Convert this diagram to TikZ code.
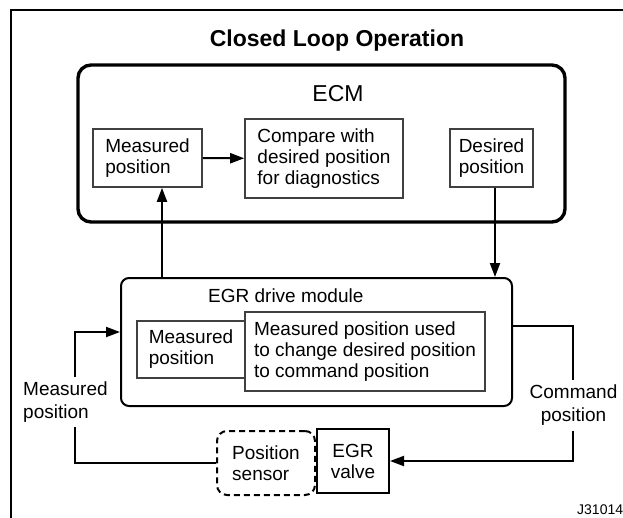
\documentclass[tikz,border=0pt]{standalone}
\usepackage{fontspec}
\setmainfont{Liberation Sans}
\usetikzlibrary{arrows.meta,calc}
\newcommand\bodyfont{\fontsize{19}{21}\selectfont}
\newcommand\labfont{\fontsize{19}{23}\selectfont}
\begin{document}
\begin{tikzpicture}[x=1pt,y=-1pt,
  box/.style={draw=black!75, line width=1.6pt, inner sep=0pt, align=center, font=\bodyfont, fill=white},
  boxl/.style={box, align=left},
  arr/.style={line width=2pt, -{Triangle[length=14pt,width=10pt]}},
  wire/.style={line width=2pt},
  lab/.style={inner xsep=0pt, inner ysep=4.5pt, font=\labfont},
  txt/.style={inner sep=0pt}
]
\useasboundingbox (0,0) rectangle (623,517);
\fill[white] (0,0) rectangle (623,517);
\clip (0,0) rectangle (623,517);
\draw[line width=2pt] (11,10) rectangle (640,540);

\node[txt, font=\fontsize{23}{27}\selectfont\bfseries, anchor=base] (title) at (337,46) {Closed Loop Operation};

\node[draw, line width=3.4pt, rounded corners=13pt, minimum width=487pt, minimum height=157pt, inner sep=0pt] (ecm) at (321.5,143.5) {};
\node[txt, font=\fontsize{23}{27}\selectfont, anchor=base] (ecml) at (338,101) {ECM};
\node[boxl, minimum width=109pt, minimum height=58pt] (mp1) at (147.5,158) {Measured\\position};
\node[boxl, minimum width=158pt, minimum height=79pt] (cmp) at (324,158.5) {Compare with\\desired position\\for diagnostics};
\node[box, minimum width=83pt, minimum height=58pt] (des) at (491.5,158) {Desired\\position};

\node[draw, line width=2pt, rounded corners=8pt, minimum width=391pt, minimum height=128pt, inner sep=0pt] (mod) at (316.5,342) {};
\node[txt, font=\bodyfont, anchor=base west] (modl) at (208,302) {EGR drive module};
\node[boxl, minimum width=108pt, minimum height=57pt] (mp2) at (191,349.5) {Measured\\position};
\node[boxl, minimum width=240pt, minimum height=79pt] (big) at (365,351.5) {Measured position used\\to change desired position\\to command position};

\node[boxl, draw=black, dash pattern=on 6pt off 4pt, rounded corners=10pt, line width=2pt, minimum width=98pt, minimum height=64pt] (ps) at (266,463) {Position\\sensor};
\node[box, draw=black, line width=2pt, minimum width=72pt, minimum height=64pt] (ev) at (353,461) {EGR\\valve};

\node[lab, align=left, anchor=west] (lml) at (23,402) {Measured\\position};
\node[lab, align=center] (rcl) at (573.5,405.5) {Command\\position};

\node[txt, font=\fontsize{14}{16}\selectfont, anchor=base west] (code) at (577,514) {J31014};

\coordinate (xa) at (162,0);
\coordinate (xb) at (495,0);
\coordinate (xc) at (75,0);
\coordinate (xd) at (573,0);
\coordinate (ya) at (0,332);
\coordinate (yb) at (0,326);

\draw[arr] (mp1) -- (cmp);
\draw[arr] (mod.north -| xa) -- (mp1.south -| xa);
\draw[arr] (des.south -| xb) -- (mod.north -| xb);
\draw[wire] (ps.west) -| (lml.south -| xc);
\draw[arr] (lml.north -| xc) |- (mod.west |- ya);
\draw[wire] (mod.east |- yb) -| (rcl.north -| xd);
\draw[arr] (rcl.south -| xd) |- (ev.east);
\end{tikzpicture}
\end{document}
